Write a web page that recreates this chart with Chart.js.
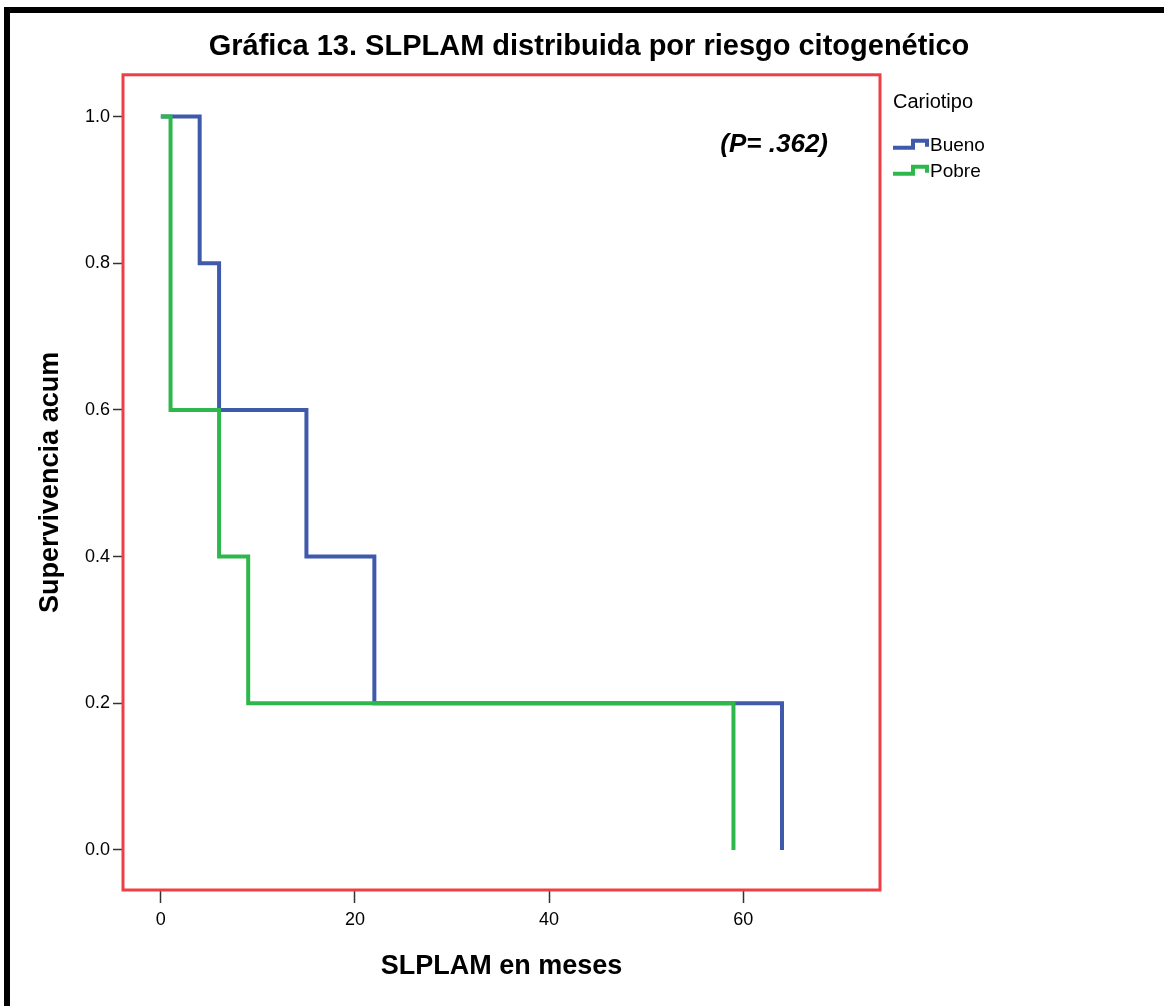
<!DOCTYPE html>
<html>
<head>
<meta charset="utf-8">
<script src="https://cdn.jsdelivr.net/npm/chart.js@4.4.0/dist/chart.umd.min.js"></script>
<style>
  html, body { margin: 0; padding: 0; background: #fff; }
  #wrap { width: 1164px; height: 1006px; }
</style>
</head>
<body>
<div id="wrap"><canvas id="kmChart" width="1164" height="1006"></canvas></div>
<script>
// Kaplan-Meier steps (months, cumulative survival)
const buenoMonths = [0, 4, 6, 15, 22, 64];
const buenoSurvival = [1.0, 0.8, 0.6, 0.4, 0.2, 0.0];
const pobreMonths = [0, 1, 6, 9, 59];
const pobreSurvival = [1.0, 0.6, 0.4, 0.2, 0.0];

const seriesNames = ['Bueno', 'Pobre'];
const seriesColors = ['rgb(63, 89, 171)', 'rgb(46, 184, 76)'];
const xTicks = [0, 20, 40, 60];
const yTicks = [0.0, 0.2, 0.4, 0.6, 0.8, 1.0];

const chartTitle = 'Gráfica 13. SLPLAM distribuida por riesgo citogenético';
const legendTitle = 'Cariotipo';
const pValueText = '(P= .362)';

const FONT = "'Liberation Sans', Arial, sans-serif";
Chart.defaults.font.family = FONT;
Chart.defaults.color = '#000';

function toPoints(xs, ys) {
    return xs.map((x, i) => ({ x: x, y: ys[i] }));
}

// page frame, red plot box, p-value and SPSS-like legend
const decorations = {
    id: 'decorations',
    beforeDraw(chart) {
        const ctx = chart.ctx;
        ctx.save();
        ctx.fillStyle = '#fff';
        ctx.fillRect(0, 0, chart.width, chart.height);
        ctx.fillStyle = '#000';
        ctx.fillRect(4, 7, chart.width - 4, 6);
        ctx.fillRect(4, 7, 6, chart.height - 7);
        ctx.restore();
    },
    afterDraw(chart) {
        const ctx = chart.ctx;
        const area = chart.chartArea;
        ctx.save();
        ctx.strokeStyle = 'rgb(238, 62, 70)';
        ctx.lineWidth = 3;
        ctx.strokeRect(area.left, area.top, area.right - area.left, area.bottom - area.top);

        ctx.fillStyle = '#000';
        ctx.font = "italic bold 26px " + FONT;
        ctx.textAlign = 'right';
        ctx.textBaseline = 'middle';
        ctx.fillText(pValueText, area.right - 52, area.top + 70);

        const lx = area.right + 13;
        ctx.textAlign = 'left';
        ctx.font = "20px " + FONT;
        ctx.fillText(legendTitle, lx, area.top + 28);
        ctx.font = "19px " + FONT;
        seriesNames.forEach((name, i) => {
            const cy = area.top + 70 + i * 26;
            ctx.strokeStyle = seriesColors[i];
            ctx.lineWidth = 4;
            ctx.beginPath();
            ctx.moveTo(lx, cy + 3);
            ctx.lineTo(lx + 20, cy + 3);
            ctx.lineTo(lx + 20, cy - 4);
            ctx.lineTo(lx + 34, cy - 4);
            ctx.lineTo(lx + 34, cy + 2);
            ctx.stroke();
            ctx.fillText(name, lx + 37, cy + 1);
        });
        ctx.restore();
    }
};

const ctx = document.getElementById('kmChart');

new Chart(ctx, {
    type: 'line',
    data: {
        datasets: [{
            label: seriesNames[0],
            data: toPoints(buenoMonths, buenoSurvival),
            borderColor: seriesColors[0],
            borderWidth: 4,
            stepped: 'before',
            pointRadius: 0,
            fill: false,
            order: 1
        }, {
            label: seriesNames[1],
            data: toPoints(pobreMonths, pobreSurvival),
            borderColor: seriesColors[1],
            borderWidth: 4,
            stepped: 'before',
            pointRadius: 0,
            fill: false,
            order: 0
        }]
    },
    options: {
        responsive: false,
        animation: false,
        devicePixelRatio: 1,
        layout: {
            padding: { left: 24, right: 10, top: 0, bottom: 0 }
        },
        plugins: {
            legend: { display: false },
            tooltip: { enabled: false },
            title: {
                display: true,
                text: chartTitle,
                color: '#000',
                font: { size: 29, weight: 'bold' },
                padding: { top: 30, bottom: 10 }
            }
        },
        scales: {
            x: {
                type: 'linear',
                min: -3.9,
                max: 74.1,
                afterBuildTicks: s => { s.ticks = xTicks.map(v => ({ value: v })); },
                afterFit: s => { s.height = 116; },
                ticks: {
                    color: '#000',
                    font: { size: 18 },
                    padding: 6,
                    maxRotation: 0
                },
                grid: {
                    drawOnChartArea: false,
                    drawTicks: true,
                    tickLength: 13,
                    tickColor: '#333',
                    tickWidth: 1.5
                },
                border: { display: false },
                title: {
                    display: true,
                    text: 'SLPLAM en meses',
                    color: '#000',
                    font: { size: 27, weight: 'bold' },
                    padding: { top: 0, bottom: 23 }
                }
            },
            y: {
                type: 'linear',
                min: -0.0546,
                max: 1.057,
                afterBuildTicks: s => { s.ticks = yTicks.map(v => ({ value: v })); },
                afterFit: s => { s.width = 99; },
                ticks: {
                    color: '#000',
                    font: { size: 18 },
                    padding: 3,
                    callback: v => Number(v).toFixed(1)
                },
                grid: {
                    drawOnChartArea: false,
                    drawTicks: true,
                    tickLength: 10,
                    tickColor: '#333',
                    tickWidth: 1.5
                },
                border: { display: false },
                title: {
                    display: true,
                    text: 'Supervivencia acum',
                    color: '#000',
                    font: { size: 27, weight: 'bold' },
                    padding: { top: 10, bottom: 0 }
                }
            },
            legendSpace: {
                type: 'linear',
                position: 'right',
                display: true,
                afterFit: s => { s.width = 274; },
                ticks: { display: false },
                grid: { display: false, drawTicks: false },
                border: { display: false }
            }
        }
    },
    plugins: [decorations]
});
</script>
</body>
</html>
